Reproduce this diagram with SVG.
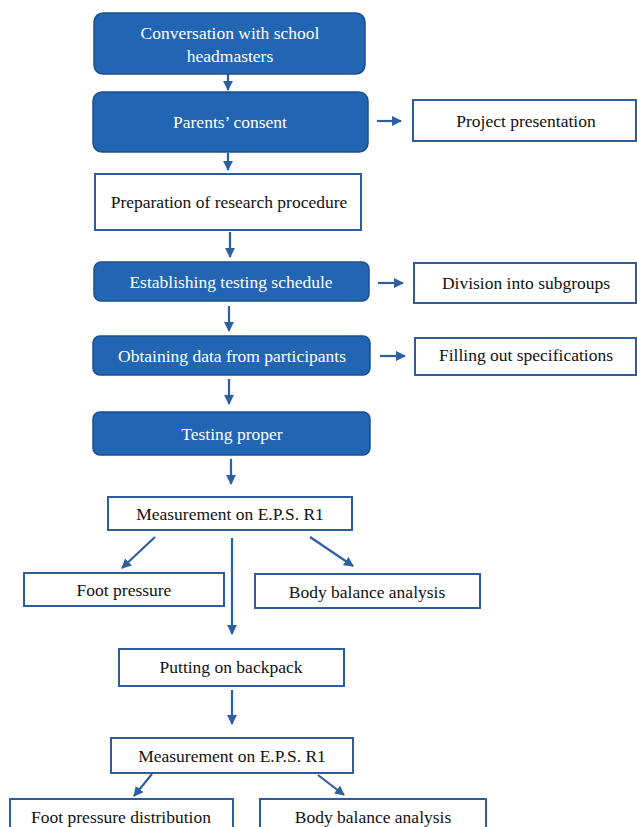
<svg xmlns="http://www.w3.org/2000/svg" width="637" height="827" viewBox="0 0 637 827">
<style>
.b{fill:#2165b3;stroke:#1d4f8c;stroke-width:1.5}
.w{fill:#fff;stroke:#2d5c9c;stroke-width:2}
text{font-family:'Liberation Serif','DejaVu Serif',serif;font-size:17.5px;text-anchor:middle}
.tw{fill:#fff}
.tb{fill:#111}
.c line{stroke:#2d5fa3;stroke-width:2.2;fill:none}
</style>
<defs>
<marker id="ah" viewBox="0 0 10 10" refX="9" refY="5" markerWidth="4.5" markerHeight="4.5" orient="auto" markerUnits="strokeWidth">
<path d="M0,0 L10,5 L0,10 z" fill="#2d5fa3"/>
</marker>
</defs>
<rect width="637" height="827" fill="#fff"/>
<g class="c">
<line x1="228" y1="74" x2="228" y2="90" marker-end="url(#ah)"/>
<line x1="228" y1="153" x2="228" y2="170" marker-end="url(#ah)"/>
<line x1="230" y1="232" x2="230" y2="257" marker-end="url(#ah)"/>
<line x1="229" y1="306" x2="229" y2="331" marker-end="url(#ah)"/>
<line x1="229" y1="379" x2="229" y2="404" marker-end="url(#ah)"/>
<line x1="231" y1="459" x2="231" y2="484" marker-end="url(#ah)"/>
<line x1="377" y1="121" x2="401" y2="121" marker-end="url(#ah)"/>
<line x1="378" y1="283" x2="403" y2="283" marker-end="url(#ah)"/>
<line x1="380" y1="356" x2="405" y2="356" marker-end="url(#ah)"/>
<line x1="155" y1="537" x2="122" y2="568" marker-end="url(#ah)"/>
<line x1="232" y1="538" x2="232" y2="634" marker-end="url(#ah)"/>
<line x1="310" y1="537" x2="353" y2="566" marker-end="url(#ah)"/>
<line x1="232" y1="690" x2="232" y2="724" marker-end="url(#ah)"/>
<line x1="152" y1="774" x2="134" y2="796" marker-end="url(#ah)"/>
<line x1="318" y1="775" x2="344" y2="795" marker-end="url(#ah)"/>
</g>
<g id="n1"><rect class="b" x="94" y="13" width="271" height="61" rx="9"/><text class="tw" x="230" y="39">Conversation with school</text><text class="tw" x="230" y="62">headmasters</text></g>
<g id="n2"><rect class="b" x="93" y="92" width="275" height="60" rx="9"/><text class="tw" x="230" y="128">Parents’ consent</text></g>
<g id="n3"><rect class="w" x="413" y="100" width="223" height="41"/><text class="tb" x="526" y="127">Project presentation</text></g>
<g id="n4"><rect class="w" x="95" y="174" width="266" height="56"/><text class="tb" x="229" y="208">Preparation of research procedure</text></g>
<g id="n5"><rect class="b" x="94" y="262" width="275" height="39" rx="7"/><text class="tw" x="231" y="288">Establishing testing schedule</text></g>
<g id="n6"><rect class="w" x="414" y="263" width="222" height="40"/><text class="tb" x="526" y="289">Division into subgroups</text></g>
<g id="n7"><rect class="b" x="93" y="336" width="277" height="39" rx="7"/><text class="tw" x="232" y="362">Obtaining data from participants</text></g>
<g id="n8"><rect class="w" x="415" y="338" width="221" height="37"/><text class="tb" x="526" y="361">Filling out specifications</text></g>
<g id="n9"><rect class="b" x="93" y="412" width="277" height="43" rx="7"/><text class="tw" x="232" y="440">Testing proper</text></g>
<g id="n10"><rect class="w" x="108" y="497" width="244" height="33"/><text class="tb" x="230" y="520">Measurement on E.P.S. R1</text></g>
<g id="n11"><rect class="w" x="24" y="573" width="200" height="33"/><text class="tb" x="124" y="596">Foot pressure</text></g>
<g id="n12"><rect class="w" x="255" y="574" width="225" height="34"/><text class="tb" x="367" y="598">Body balance analysis</text></g>
<g id="n13"><rect class="w" x="119" y="649" width="225" height="37"/><text class="tb" x="231" y="673">Putting on backpack</text></g>
<g id="n14"><rect class="w" x="111" y="738" width="242" height="35"/><text class="tb" x="232" y="762">Measurement on E.P.S. R1</text></g>
<g id="n15"><rect class="w" x="10" y="799" width="223" height="40"/><text class="tb" x="121" y="823">Foot pressure distribution</text></g>
<g id="n16"><rect class="w" x="260" y="799" width="226" height="40"/><text class="tb" x="373" y="823">Body balance analysis</text></g>
</svg>
